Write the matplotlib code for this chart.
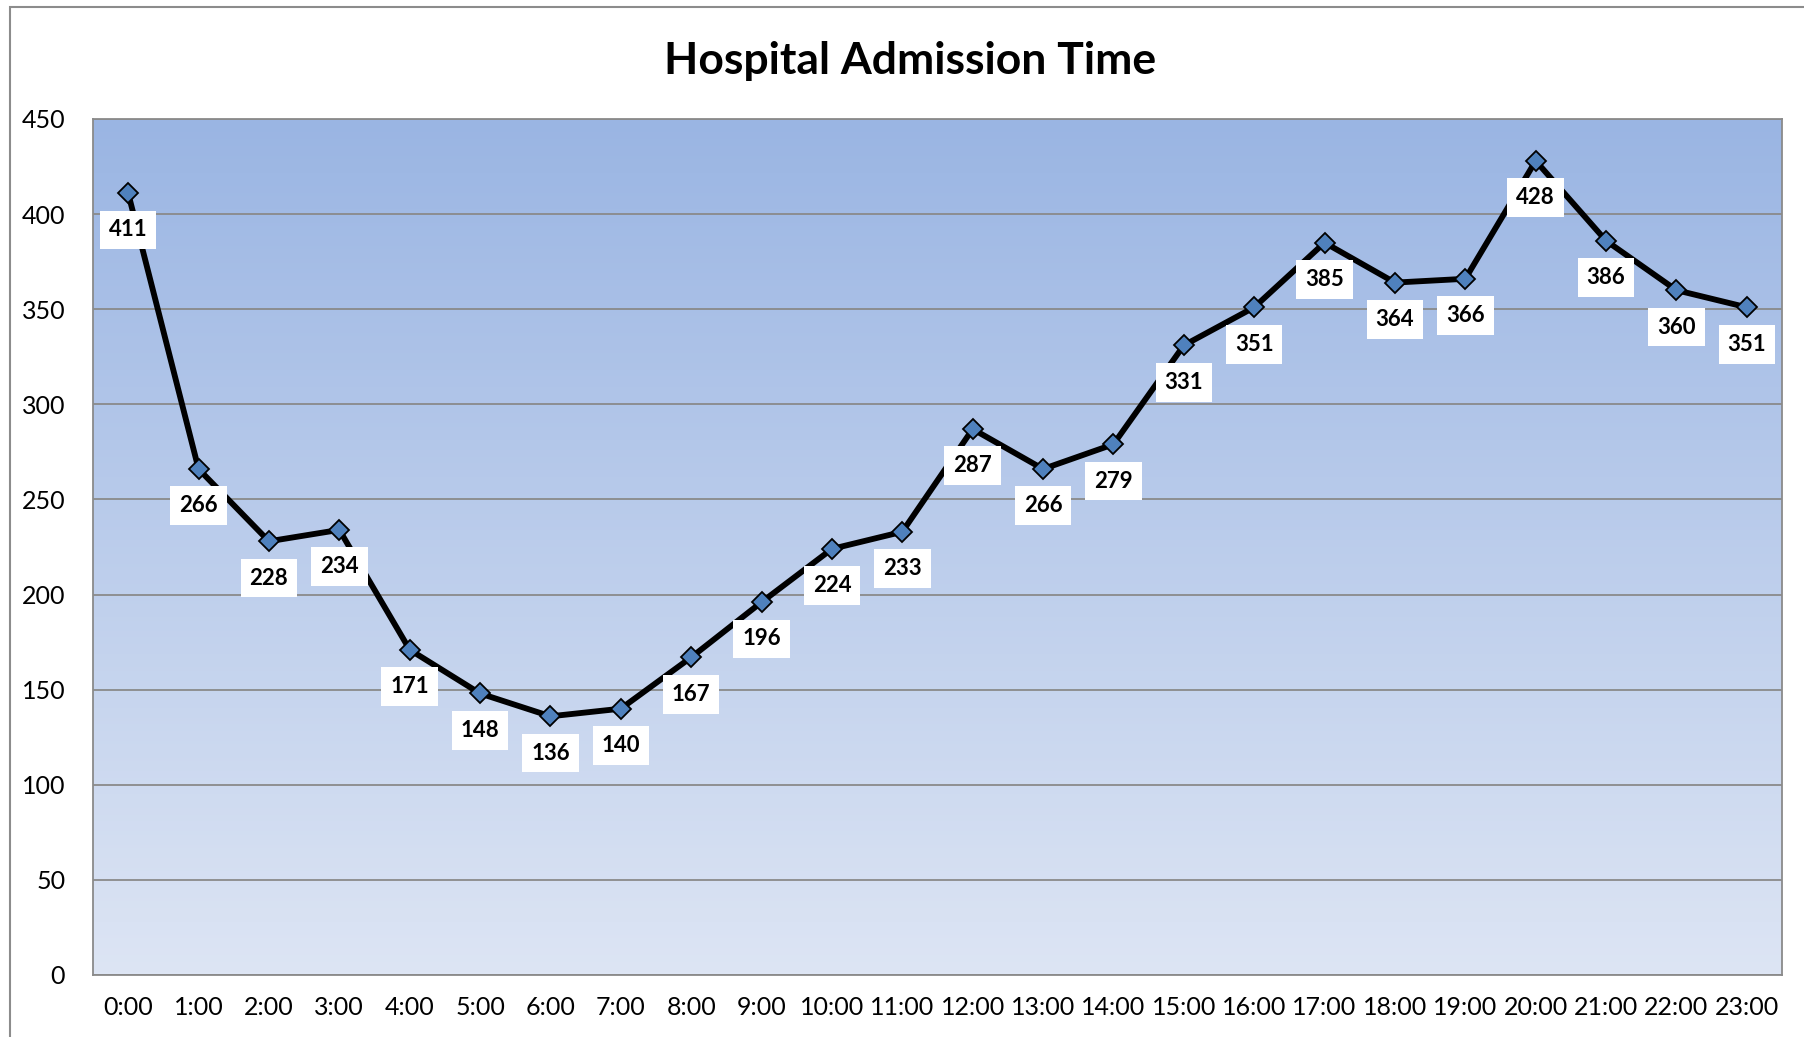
import numpy as np
import matplotlib.pyplot as plt
from matplotlib.patches import Rectangle
from matplotlib.colors import LinearSegmentedColormap

hours = ["%d:00" % h for h in range(24)]
admissions = [411, 266, 228, 234, 171, 148, 136, 140, 167, 196, 224, 233,
              287, 266, 279, 331, 351, 385, 364, 366, 428, 386, 360, 351]
y_ticks = [0, 50, 100, 150, 200, 250, 300, 350, 400, 450]

plt.rcParams['font.family'] = ['Lato', 'DejaVu Sans']

fig = plt.figure(figsize=(18.04, 10.37), dpi=100)
# outer chart border
fig.patches.append(Rectangle((10 / 1804, -0.01), 1.0, 1 - 7 / 1037 + 0.01,
                             transform=fig.transFigure, fill=False,
                             edgecolor='#8c8c8c', linewidth=1.5))

ax = fig.add_axes([93 / 1804, 1 - 975 / 1037, (1782 - 93) / 1804, (975 - 119) / 1037])
x = np.arange(len(hours))
ax.set_xlim(-0.5, len(hours) - 0.5)
ax.set_ylim(0, 450)

# gradient fill
cmap = LinearSegmentedColormap.from_list('bg', ['#dde5f4', '#9ab5e3'])
grad = np.linspace(0, 1, 256).reshape(-1, 1)
ax.imshow(grad, cmap=cmap, aspect='auto', origin='lower',
          extent=[-0.5, len(hours) - 0.5, 0, 450], zorder=0)

ax.set_yticks(y_ticks)
ax.yaxis.grid(True, color='#8a8a8a', linewidth=1.3, zorder=1)
ax.set_axisbelow(False)
for s in ax.spines.values():
    s.set_color('#8a8a8a')
    s.set_linewidth(1.3)

ax.plot(x, admissions, color='black', linewidth=4.2, zorder=3,
        marker='D', markersize=10, markerfacecolor='#4f81bd',
        markeredgecolor='black', markeredgewidth=1.3)

for xi, v in zip(x, admissions):
    ax.annotate(str(v), (xi, v), xytext=(0, -26.5), textcoords='offset points',
                ha='center', va='center', fontsize=16, fontweight='bold',
                bbox=dict(boxstyle='square,pad=0.4', facecolor='white', edgecolor='none'),
                zorder=4)

ax.set_xticks(x)
ax.set_xticklabels(hours)
ax.tick_params(axis='both', length=0, labelsize=18, colors='black')
ax.tick_params(axis='x', pad=15)
ax.tick_params(axis='y', pad=20)

fig.text(0.5045, 1 - 61 / 1037, 'Hospital Admission Time', ha='center', va='center',
         fontsize=32, fontweight='bold')

fig.savefig('out.png', dpi=100)
